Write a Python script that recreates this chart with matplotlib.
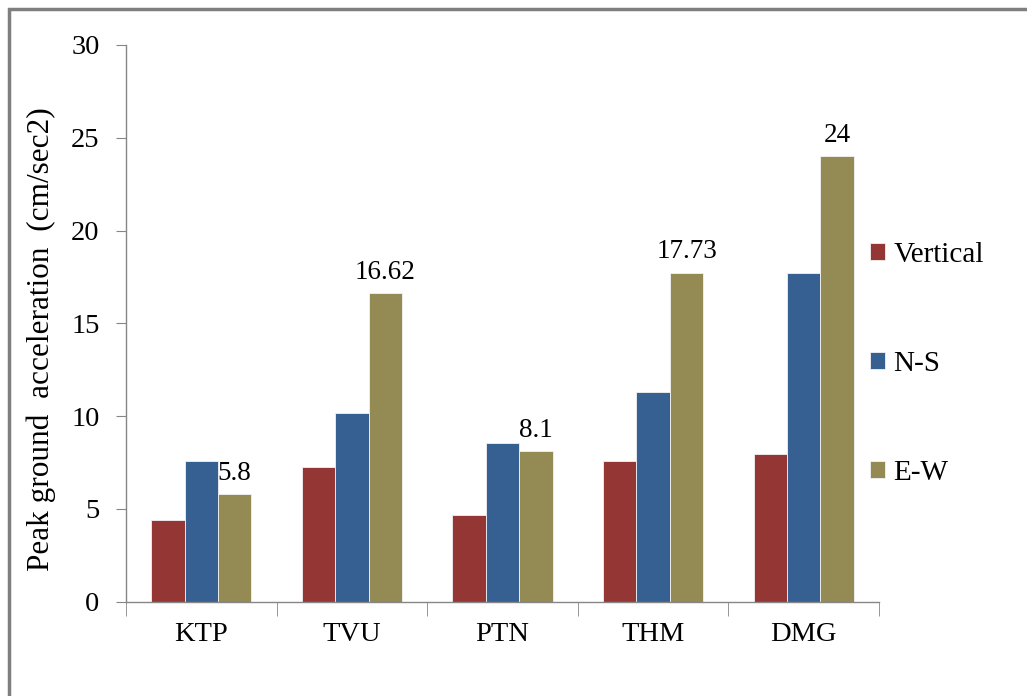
import matplotlib.pyplot as plt
import numpy as np
from matplotlib.patches import Rectangle

# %%

stations = ['KTP', 'TVU', 'PTN', 'THM', 'DMG']
vertical = [4.42, 7.27, 4.67, 7.56, 7.97]
north_south = [7.59, 10.16, 8.55, 11.29, 17.73]
east_west = [5.8, 16.62, 8.1, 17.73, 24]

series_names = ['Vertical', 'N-S', 'E-W']
series_colors = ['#943634', '#366092', '#948A54']

# %%

plt.rcParams['font.family'] = ['Liberation Serif', 'DejaVu Serif']

fig = plt.figure(figsize=(10.27, 6.96), dpi=100)
ax = fig.add_axes([126 / 1027, 1 - 601.5 / 696, (879 - 126) / 1027, (601.5 - 45) / 696])

x = np.arange(len(stations))
w = 0.222
bars = []
for i, (vals, name, col) in enumerate(zip([vertical, north_south, east_west], series_names, series_colors)):
    b = ax.bar(x + (i - 1) * w, vals, w, color=col, label=name, edgecolor='#f2f2f2', linewidth=0.6)
    bars.append(b)

# value labels only on the E-W bars
for xi, v in zip(x, east_west):
    ax.annotate('%g' % v, (xi + w, v), xytext=(0, 6), textcoords='offset points',
                ha='center', va='bottom', fontsize=19.5)

ax.set_xlim(-0.5, len(stations) - 0.5)
ax.set_ylim(0, 30)
ax.set_yticks(range(0, 31, 5))
ax.set_xticks(x)
ax.set_xticklabels(stations)
ax.set_xticks(np.arange(-0.5, len(stations)), minor=True)

for s in ['top', 'right']:
    ax.spines[s].set_visible(False)
for s in ['left', 'bottom']:
    ax.spines[s].set_color('#868686')
    ax.spines[s].set_linewidth(1.0)

ax.tick_params(axis='y', direction='out', length=7, color='#868686', labelsize=20.5, pad=12)
ax.tick_params(axis='x', which='major', length=0, labelsize=20.5, pad=15)
ax.tick_params(axis='x', which='minor', direction='out', length=10, color='#868686')

ax.set_ylabel('Peak ground  acceleration  (cm/sec2)', fontsize=22.5)
ax.yaxis.set_label_coords(-0.093, 0.472)

fig.legend(handles=bars, labels=series_names, loc='center left', bbox_to_anchor=(870 / 1027, 1 - 364 / 696),
           frameon=False, fontsize=21, handlelength=0.5, handleheight=0.5, handletextpad=0.3,
           labelspacing=2.85, borderpad=0, borderaxespad=0)

# outer chart border
fig.patches.append(Rectangle((9 / 1027, -0.1), 1.2, 1 - 9 / 696 + 0.1, transform=fig.transFigure,
                             fill=False, edgecolor='#7f7f7f', linewidth=2.5))

plt.savefig('out.png', dpi=100)
